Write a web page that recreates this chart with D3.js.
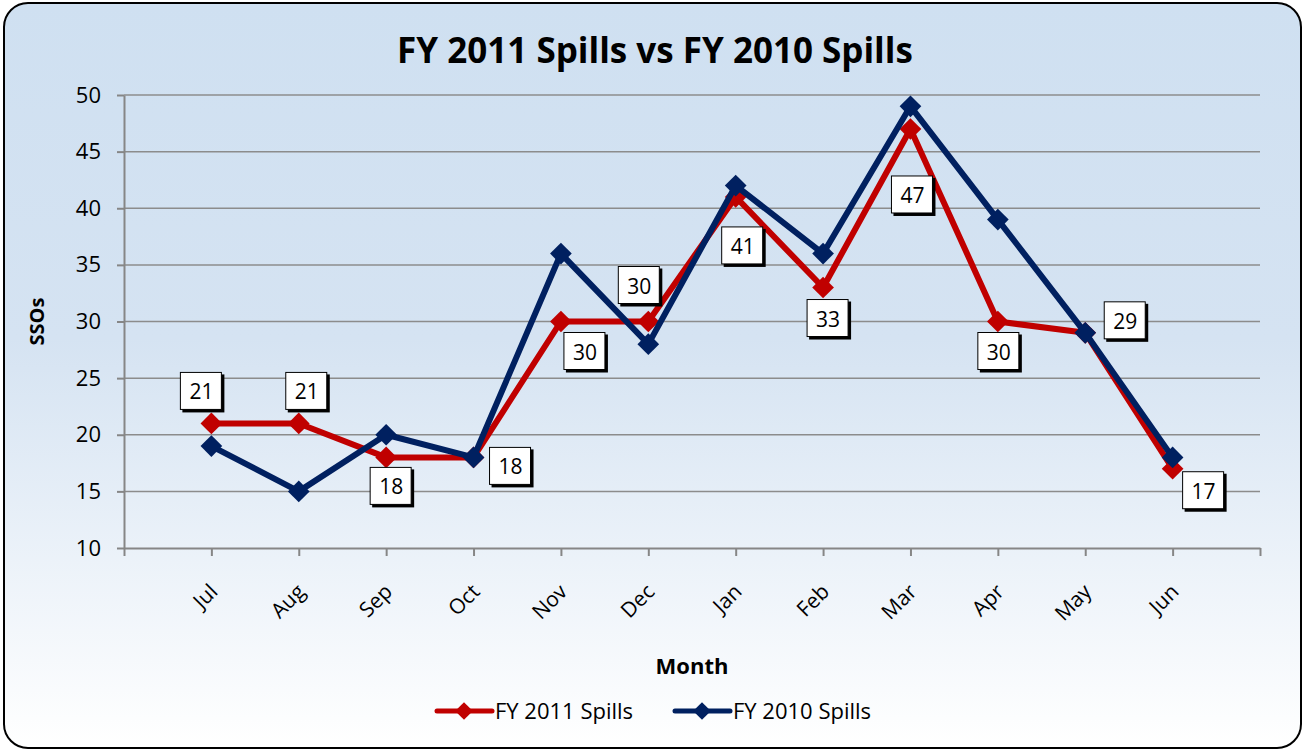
<!DOCTYPE html>
<html>
<head>
<meta charset="utf-8">
<title>FY 2011 Spills vs FY 2010 Spills</title>
<script src="https://cdn.jsdelivr.net/npm/d3@7"></script>
<style>
  body { margin: 0; background: #fff; }
  svg text { font-family: "Open Sans", Lato, sans-serif; fill: #000; }
  .grid line { stroke: #8c8c8c; stroke-width: 1.5; }
  .axis path, .axis line { stroke: #868686; stroke-width: 2; }
  .axis text { font-size: 21px; }
</style>
</head>
<body>
<script>
var months = ['Jul', 'Aug', 'Sep', 'Oct', 'Nov', 'Dec', 'Jan', 'Feb', 'Mar', 'Apr', 'May', 'Jun'];
var fy2011 = [21, 21, 18, 18, 30, 30, 41, 33, 47, 30, 29, 17];
var fy2010 = [19, 15, 20, 18, 36, 28, 42, 36, 49, 39, 29, 18];
var yTicks = [10, 15, 20, 25, 30, 35, 40, 45, 50];
// hand placed data labels (FY 2011), nudge from the point in px
var labelNudge = [[-10, -32], [8, -32], [5, 29], [37, 9], [24, 30], [-9, -36],
                  [7, 49], [5, 31], [2, 66], [1, 30], [40, -12], [31, 22]];

var w = 1304, h = 751;
var pLeft = 124, pRight = 1260, pTop = 95, pBottom = 548;

var svg = d3.select('body').append('svg')
  .attr('width', w)
  .attr('height', h);

var grad = svg.append('defs').append('linearGradient')
  .attr('id', 'bg')
  .attr('x1', 0).attr('y1', 0).attr('x2', 0).attr('y2', 1);
grad.append('stop').attr('offset', '0%').attr('stop-color', '#cfe0f1');
grad.append('stop').attr('offset', '45%').attr('stop-color', '#d5e3f2');
grad.append('stop').attr('offset', '100%').attr('stop-color', '#ffffff');

svg.append('rect')
  .attr('x', 4).attr('y', 3)
  .attr('width', w - 7).attr('height', h - 6)
  .attr('rx', 24).attr('ry', 24)
  .attr('fill', 'url(#bg)')
  .attr('stroke', '#000')
  .attr('stroke-width', 2);

// category axis: 13 intervals, points sit on ticks 1..12
var xScale = d3.scaleLinear().domain([0, months.length + 1]).range([pLeft, pRight]);
var yScale = d3.scaleLinear().domain([10, 50]).range([pBottom, pTop]);

svg.append('g')
  .attr('class', 'grid')
  .selectAll('line')
  .data(yTicks.slice(1))
  .enter()
  .append('line')
  .attr('x1', pLeft).attr('x2', pRight)
  .attr('y1', function(d) { return yScale(d); })
  .attr('y2', function(d) { return yScale(d); });

var yAxis = d3.axisLeft(yScale).tickValues(yTicks).tickSize(7).tickSizeOuter(0).tickPadding(16);
svg.append('g')
  .attr('class', 'axis')
  .attr('transform', 'translate(' + pLeft + ',0)')
  .call(yAxis)
  .selectAll('text').style('font-size', '22px');

var xAxis = d3.axisBottom(xScale)
  .tickValues(d3.range(0, months.length + 2))
  .tickSize(8).tickSizeOuter(0)
  .tickFormat(function(i) { return months[i - 1] || ''; });
var gx = svg.append('g')
  .attr('class', 'axis')
  .attr('transform', 'translate(0,' + pBottom + ')')
  .call(xAxis);
gx.selectAll('text')
  .attr('text-anchor', 'end')
  .attr('dy', null)
  .attr('y', 0)
  .attr('transform', 'translate(7,45) rotate(-45)');

svg.append('text')
  .attr('x', 655).attr('y', 63)
  .attr('text-anchor', 'middle')
  .style('font-size', '35px')
  .style('font-weight', 'bold')
  .text('FY 2011 Spills vs FY 2010 Spills');

svg.append('text')
  .attr('transform', 'translate(44,' + ((pTop + pBottom) / 2) + ') rotate(-90)')
  .attr('text-anchor', 'middle')
  .style('font-size', '20px')
  .style('font-weight', 'bold')
  .text('SSOs');

svg.append('text')
  .attr('x', 692).attr('y', 674)
  .attr('text-anchor', 'middle')
  .style('font-size', '22px')
  .style('font-weight', 'bold')
  .text('Month');

var series = [
  { name: 'FY 2011 Spills', values: fy2011, color: '#c00000' },
  { name: 'FY 2010 Spills', values: fy2010, color: '#002060' }
];

var line = d3.line()
  .x(function(d, i) { return xScale(i + 1); })
  .y(function(d) { return yScale(d); });

var diamond = d3.symbol().type(d3.symbolDiamond2).size(300);

series.forEach(function(s) {
  svg.append('path')
    .datum(s.values)
    .attr('fill', 'none')
    .attr('stroke', s.color)
    .attr('stroke-width', 6)
    .attr('stroke-linejoin', 'round')
    .attr('d', line);
  svg.selectAll('path.m' + s.color.slice(1))
    .data(s.values)
    .enter()
    .append('path')
    .attr('class', 'm' + s.color.slice(1))
    .attr('d', diamond)
    .attr('fill', s.color)
    .attr('transform', function(d, i) {
      return 'translate(' + xScale(i + 1) + ',' + yScale(d) + ')';
    });
});

// data labels for FY 2011
var labels = svg.selectAll('g.lbl')
  .data(fy2011)
  .enter()
  .append('g')
  .attr('class', 'lbl')
  .attr('transform', function(d, i) {
    return 'translate(' + (xScale(i + 1) + labelNudge[i][0]) + ',' + (yScale(d) + labelNudge[i][1]) + ')';
  });
labels.append('rect')
  .attr('x', -19).attr('y', -17).attr('width', 42).attr('height', 38)
  .attr('fill', '#000');
labels.append('rect')
  .attr('x', -21).attr('y', -19).attr('width', 41).attr('height', 37)
  .attr('fill', '#fff')
  .attr('stroke', '#000')
  .attr('stroke-width', 1);
labels.append('text')
  .attr('y', 8)
  .attr('text-anchor', 'middle')
  .style('font-size', '21px')
  .text(function(d) { return d; });

// legend
var legendX = [437, 675];
series.forEach(function(s, i) {
  var g = svg.append('g').attr('transform', 'translate(' + legendX[i] + ',711)');
  g.append('line')
    .attr('x1', 0).attr('x2', 55)
    .attr('stroke', s.color).attr('stroke-width', 5)
    .attr('stroke-linecap', 'round');
  g.append('path')
    .attr('d', d3.symbol().type(d3.symbolDiamond2).size(200))
    .attr('fill', s.color)
    .attr('transform', 'translate(27,0)');
  g.append('text')
    .attr('x', 58).attr('y', 8)
    .style('font-size', '22px')
    .text(s.name);
});
</script>
</body>
</html>
